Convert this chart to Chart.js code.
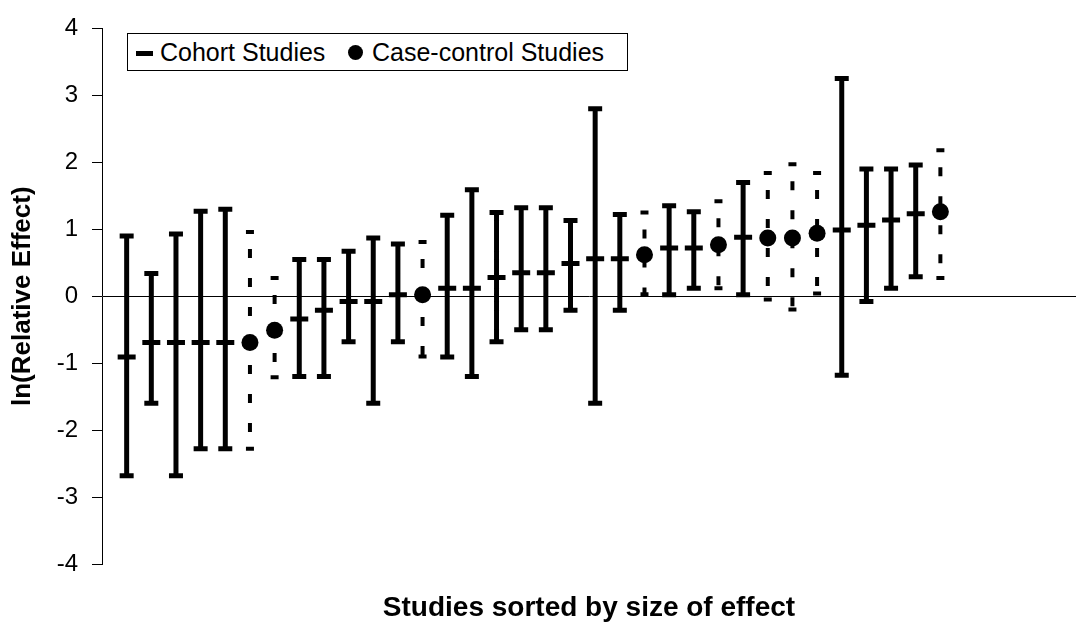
<!DOCTYPE html>
<html>
<head>
<meta charset="utf-8">
<script src="https://cdn.jsdelivr.net/npm/chart.js@4.4.1/dist/chart.umd.min.js"></script>
<style>
    body { margin: 0; background: #fff; }
    #wrap { position: relative; width: 1090px; height: 626px; }
    #legend {
        position: absolute; left: 127px; top: 33px; width: 499px; height: 36px;
        border: 1px solid #000; background: #fff;
        font-family: "Liberation Sans", Arial, sans-serif; font-size: 25px; color: #000;
    }
    #legend span { position: absolute; }
    .leg-dash { left: 8px; top: 17px; width: 17px; height: 5px; background: #000; }
    .leg-dot { left: 220px; top: 11px; width: 15px; height: 15px; border-radius: 50%; background: #000; }
    .leg-text { top: 3px; line-height: 30px; white-space: nowrap; }
</style>
</head>
<body>
<div id="wrap">
    <canvas id="chart"></canvas>
    <div id="legend">
        <span class="leg-dash"></span>
        <span class="leg-text" style="left: 32px">Cohort Studies</span>
        <span class="leg-dot"></span>
        <span class="leg-text" style="left: 244px">Case-control Studies</span>
    </div>
</div>
<script>
// study positions (sorted by size of effect) and ln(relative effect) with CI
const cohortStudy = [1, 2, 3, 4, 5, 8, 9, 10, 11, 12, 14, 15, 16, 17, 18, 19, 20, 21, 23, 24, 26, 30, 31, 32, 33];
const cohortMean = [-0.91, -0.69, -0.69, -0.69, -0.69, -0.34, -0.21, -0.08, -0.08, 0.02, 0.12, 0.12, 0.28, 0.35, 0.35, 0.49, 0.56, 0.56, 0.72, 0.72, 0.88, 0.99, 1.06, 1.14, 1.23];
const cohortLow = [-2.68, -1.60, -2.68, -2.28, -2.28, -1.20, -1.20, -0.68, -1.60, -0.68, -0.91, -1.20, -0.68, -0.50, -0.50, -0.21, -1.60, -0.21, 0.02, 0.12, 0.02, -1.18, -0.08, 0.12, 0.29];
const cohortHigh = [0.90, 0.34, 0.93, 1.27, 1.30, 0.55, 0.55, 0.67, 0.87, 0.78, 1.21, 1.59, 1.25, 1.32, 1.32, 1.13, 2.80, 1.22, 1.35, 1.26, 1.70, 3.25, 1.90, 1.90, 1.96];

const caseStudy = [6, 7, 13, 22, 25, 27, 28, 29, 34];
const caseMean = [-0.69, -0.51, 0.02, 0.62, 0.77, 0.87, 0.87, 0.94, 1.26];
const caseLow = [-2.28, -1.21, -0.90, 0.03, 0.12, -0.05, -0.20, 0.04, 0.27];
const caseHigh = [0.96, 0.27, 0.81, 1.25, 1.42, 1.84, 1.97, 1.84, 2.18];

const yTicks = [-4, -3, -2, -1, 0, 1, 2, 3, 4];

const fontFamily = '"Liberation Sans", Arial, sans-serif';

function whiskers(xs, lows, highs) {
    const pts = [];
    for (let i = 0; i < xs.length; i++) {
        pts.push({ x: xs[i], y: highs[i] });
        pts.push({ x: xs[i], y: lows[i] });
        pts.push({ x: xs[i], y: null });
    }
    return pts;
}

function ends(xs, lows, highs) {
    const pts = [];
    for (let i = 0; i < xs.length; i++) {
        pts.push({ x: xs[i], y: lows[i] });
        pts.push({ x: xs[i], y: highs[i] });
    }
    return pts;
}

function points(xs, ys) {
    return xs.map((x, i) => ({ x: x, y: ys[i] }));
}

const ctx = document.getElementById('chart');

new Chart(ctx, {
    type: 'scatter',
    data: {
        datasets: [
            {
                label: 'Cohort Studies',
                data: points(cohortStudy, cohortMean),
                pointStyle: 'line',
                pointRadius: 9,
                pointBorderWidth: 5,
                borderColor: '#000',
                backgroundColor: '#000',
                order: 0
            },
            {
                label: 'Case-control Studies',
                data: points(caseStudy, caseMean),
                pointStyle: 'circle',
                pointRadius: 8.5,
                pointBorderWidth: 0,
                borderColor: '#000',
                backgroundColor: '#000',
                order: 0
            },
            {
                data: ends(cohortStudy, cohortLow, cohortHigh),
                pointStyle: 'line',
                pointRadius: 7,
                pointBorderWidth: 5,
                borderColor: '#000',
                order: 1
            },
            {
                data: ends(caseStudy, caseLow, caseHigh),
                pointStyle: 'line',
                pointRadius: 4,
                pointBorderWidth: 4,
                borderColor: '#000',
                order: 1
            },
            {
                data: whiskers(cohortStudy, cohortLow, cohortHigh),
                showLine: true,
                spanGaps: false,
                pointRadius: 0,
                borderWidth: 5,
                borderColor: '#000',
                order: 2
            },
            {
                data: whiskers(caseStudy, caseLow, caseHigh),
                showLine: true,
                spanGaps: false,
                pointRadius: 0,
                borderWidth: 4,
                borderDash: [9, 20],
                borderDashOffset: 12,
                borderColor: '#000',
                order: 2
            }
        ]
    },
    options: {
        responsive: true,
        maintainAspectRatio: false,
        animation: false,
        devicePixelRatio: 1,
        layout: { padding: { top: 22, right: 0, bottom: 0, left: 0 } },
        plugins: {
            legend: { display: false },
            tooltip: { enabled: false }
        },
        scales: {
            x: {
                type: 'linear',
                min: 0,
                max: 39.5,
                grid: { display: false },
                border: { display: false },
                ticks: { display: false },
                title: {
                    display: true,
                    text: 'Studies sorted by size of effect',
                    color: '#000',
                    font: { family: fontFamily, size: 28, weight: 'bold' },
                    padding: { top: 0, bottom: 1 }
                },
                afterFit: (scale) => { scale.height = 62; }
            },
            y: {
                min: -4,
                max: 4,
                afterBuildTicks: (scale) => { scale.ticks = yTicks.map(v => ({ value: v })); },
                ticks: {
                    color: '#000',
                    padding: 14,
                    font: { family: fontFamily, size: 24 }
                },
                grid: {
                    color: (c) => (c.tick && c.tick.value === 0 ? '#000' : 'rgba(0,0,0,0)'),
                    tickColor: '#000',
                    tickLength: 10,
                    lineWidth: 1
                },
                border: { color: '#000', width: 1 },
                title: {
                    display: true,
                    text: 'ln(Relative Effect)',
                    color: '#000',
                    font: { family: fontFamily, size: 26, weight: 'bold' },
                    padding: { top: 7, bottom: 0 }
                },
                afterFit: (scale) => { scale.width = 102; }
            }
        }
    }
});
</script>
</body>
</html>
